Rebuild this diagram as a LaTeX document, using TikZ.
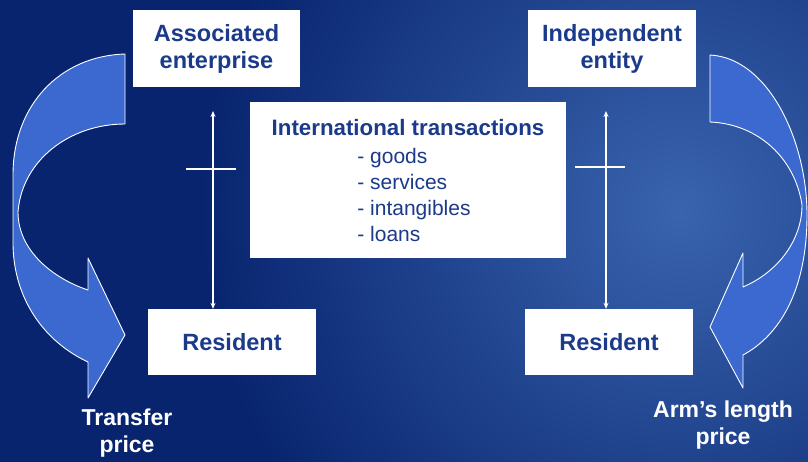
\documentclass[tikz,border=0pt]{standalone}
\usepackage{fontspec}
\setmainfont{Liberation Sans}
\usetikzlibrary{arrows.meta}
\definecolor{bgdark}{HTML}{08246F}
\definecolor{bglight}{HTML}{3A64AE}
\definecolor{navytext}{HTML}{1B3A8A}
\definecolor{arrowblue}{HTML}{3B69CF}
\tikzset{
  box/.style={fill=white, draw=none, inner sep=0pt, align=center, text=navytext,
    font=\fontsize{23.5}{27}\selectfont\bfseries},
  bigarrow/.style={fill=arrowblue, draw=white, line width=0.9pt, line join=round},
  vert/.style={draw=white, line width=1.1pt, {Stealth[length=6pt,width=5pt]}-{Stealth[length=6pt,width=5pt]}},
  cross/.style={draw=white, line width=1.6pt},
  label/.style={text=white, align=center, font=\fontsize{23}{27}\selectfont\bfseries}
}
\begin{document}
\begin{tikzpicture}[x=1pt,y=-1pt]
\useasboundingbox (0,0) rectangle (808,461);
% background
\begin{scope}
\clip (-2,-2) rectangle (810,463);
\fill[bgdark] (-10,-10) rectangle (818,471);
\shade[inner color=bglight, outer color=bgdark] (680,210) circle [radius=480pt];
\end{scope}

% boxes
\node[box, minimum width=167pt, minimum height=77pt] (ae) at (216.5,48.5) {Associated\\enterprise};
\node[box, minimum width=168pt, minimum height=77pt] (ie) at (612,48.5) {Independent\\entity};
\node[box, minimum width=316pt, minimum height=156pt] (it) at (408,180)
  {{\fontsize{22.3}{27}\selectfont\rule{0pt}{25pt}International transactions}\\[8pt]
   {\fontsize{21}{26}\selectfont\mdseries\hspace*{12pt}\begin{tabular}{@{}l@{}}- goods\\- services\\- intangibles\\- loans\end{tabular}}};
\node[box, minimum width=168pt, minimum height=66pt] (rl) at (232,342) {Resident};
\node[box, minimum width=168pt, minimum height=66pt] (rr) at (609,342) {Resident};

% vertical arrows
\coordinate (lt) at (213,111);
\coordinate (rt) at (606,111);
\draw[vert] (lt) -- (lt |- rl.north);
\draw[vert] (rt) -- (rt |- rr.north);
\draw[cross] (186,169) -- (236,169);
\draw[cross] (575,167) -- (625,167);

% left curved arrow
\path[bigarrow] (125,54) .. controls (60,56) and (13,105) .. (13,175)
  -- (13,245) .. controls (14,300) and (45,342) .. (88,362)
  -- (88,398) -- (125,335) -- (88,258) -- (88,290)
  .. controls (52,278) and (18,250) .. (18,212)
  .. controls (22,160) and (70,124) .. (125,124) -- cycle;

% right curved arrow
\path[bigarrow] (710,55) .. controls (768,58) and (807,140) .. (807,215)
  .. controls (807,290) and (780,335) .. (743,355)
  -- (743,388) -- (710,327) -- (743,253) -- (743,287)
  .. controls (778,272) and (802,240) .. (802,205)
  .. controls (795,158) and (758,124) .. (710,122) -- cycle;

% labels
\node[label] (tp) at (127,433) {Transfer\\price};
\node[label] (al) at (723,425) {Arm’s length\\price};
\end{tikzpicture}
\end{document}
